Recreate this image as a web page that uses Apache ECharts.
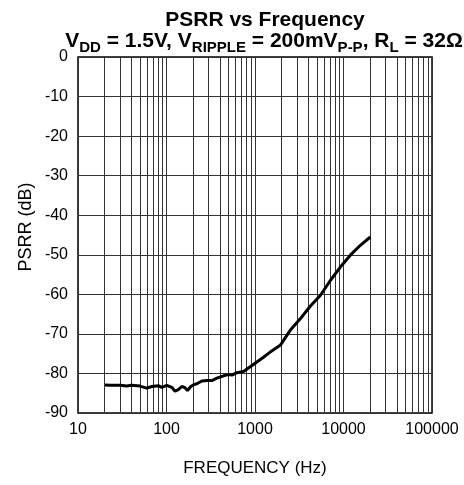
<!DOCTYPE html>
<html>
<head>
<meta charset="utf-8">
<script src="https://cdn.jsdelivr.net/npm/echarts@6/dist/echarts.min.js"></script>
<style>
html,body{margin:0;padding:0;background:#fff;}
#chart{width:464px;height:485px;}
</style>
</head>
<body>
<div id="chart"></div>
<script>
// Data
const freqHz = [20.2, 23, 29.9, 35.5, 40.5, 50.2, 59.8, 68.2, 81, 88.4, 100.7, 114.8, 125, 136, 149, 162, 172.5, 188, 201, 220, 251, 286, 325, 371, 441, 501, 548, 624, 741, 883, 1050, 1247, 1485, 1928, 2500, 3243, 4207, 5464, 7096, 9208, 11950, 15500, 20100];
const psrrDb = [-82.9, -83.0, -83.0, -83.2, -83.0, -83.2, -83.7, -83.3, -83.1, -83.5, -83.0, -83.5, -84.5, -84.1, -83.3, -83.6, -84.3, -83.3, -82.9, -82.6, -81.9, -81.8, -81.8, -81.2, -80.6, -80.3, -80.4, -79.8, -79.5, -78.3, -77.1, -75.9, -74.6, -72.9, -69.1, -66.2, -63.0, -60.3, -56.5, -53.1, -50.1, -47.6, -45.5];
const xTickLabels = ['10', '100', '1000', '10000', '100000'];
const yMin = -90, yMax = 0, yStep = 10;
const decades = [10, 100, 1000, 10000];
const minorMultipliers = [2, 3, 4, 5, 6, 7, 8, 9];

const minorLines = [];
decades.forEach(d => minorMultipliers.forEach(m => minorLines.push({ xAxis: d * m })));

const seriesData = freqHz.map((f, i) => [f, psrrDb[i]]);

const chart = echarts.init(document.getElementById('chart'), null, { renderer: 'canvas' });
const FONT = 'Liberation Sans, Arial, sans-serif';

chart.setOption({
  animation: false,
  backgroundColor: '#fff',
  title: [
    {
      text: 'PSRR vs Frequency',
      left: 260, top: 5, textAlign: 'center',
      textStyle: { fontFamily: FONT, fontSize: 21, fontWeight: 'bold', color: '#000' }
    },
    {
      text: '{n|V}{s|DD}{n| = 1.5V, V}{s|RIPPLE}{n| = 200mV}{s|P-P}{n|, R}{s|L}{n| = 32Ω}',
      left: 259, top: 26, textAlign: 'center',
      textStyle: {
        fontFamily: FONT, fontSize: 21, fontWeight: 'bold', color: '#000',
        rich: {
          n: { fontFamily: FONT, fontSize: 21, fontWeight: 'bold', color: '#000', lineHeight: 22, verticalAlign: 'top' },
          s: { fontFamily: FONT, fontSize: 15, fontWeight: 'bold', color: '#000', lineHeight: 15, padding: [9, 0, 0, 0], verticalAlign: 'top' }
        }
      }
    }
  ],
  grid: {
    left: 78, right: 32, top: 57, bottom: 72,
    show: true, borderColor: '#000', borderWidth: 1.5, backgroundColor: 'transparent'
  },
  xAxis: {
    type: 'log', logBase: 10, min: 10, max: 100000,
    name: 'FREQUENCY (Hz)', nameLocation: 'middle', nameGap: 47,
    nameTextStyle: { fontFamily: FONT, fontSize: 17, color: '#000', verticalAlign: 'top' },
    axisLine: { show: false },
    axisTick: { show: false },
    axisLabel: {
      fontFamily: FONT, fontSize: 16, color: '#000', margin: 9,
      formatter: v => { const r = Math.round(v); const s = String(r); return xTickLabels.includes(s) ? s : ''; }
    },
    splitLine: { show: true, lineStyle: { color: '#333', width: 1 } }
  },
  yAxis: {
    type: 'value', min: yMin, max: yMax, interval: yStep,
    axisLine: { show: false },
    axisTick: { show: false },
    axisLabel: { fontFamily: FONT, fontSize: 16, color: '#000', margin: 10 },
    splitLine: { show: true, lineStyle: { color: '#333', width: 1 } }
  },
  graphic: [
    {
      type: 'text', x: 26, y: 227, rotation: Math.PI / 2,
      style: { text: 'PSRR (dB)', fontFamily: FONT, fontSize: 18, fill: '#000', align: 'center', verticalAlign: 'middle' }
    }
  ],
  series: [
    {
      type: 'line',
      data: seriesData,
      showSymbol: false,
      smooth: false,
      lineStyle: { color: '#000', width: 3 },
      z: 5,
      markLine: {
        silent: true, symbol: ['none', 'none'], animation: false,
        label: { show: false },
        lineStyle: { color: '#333', width: 1, type: 'solid' },
        data: minorLines,
        z: 1
      }
    }
  ]
});
</script>
</body>
</html>
